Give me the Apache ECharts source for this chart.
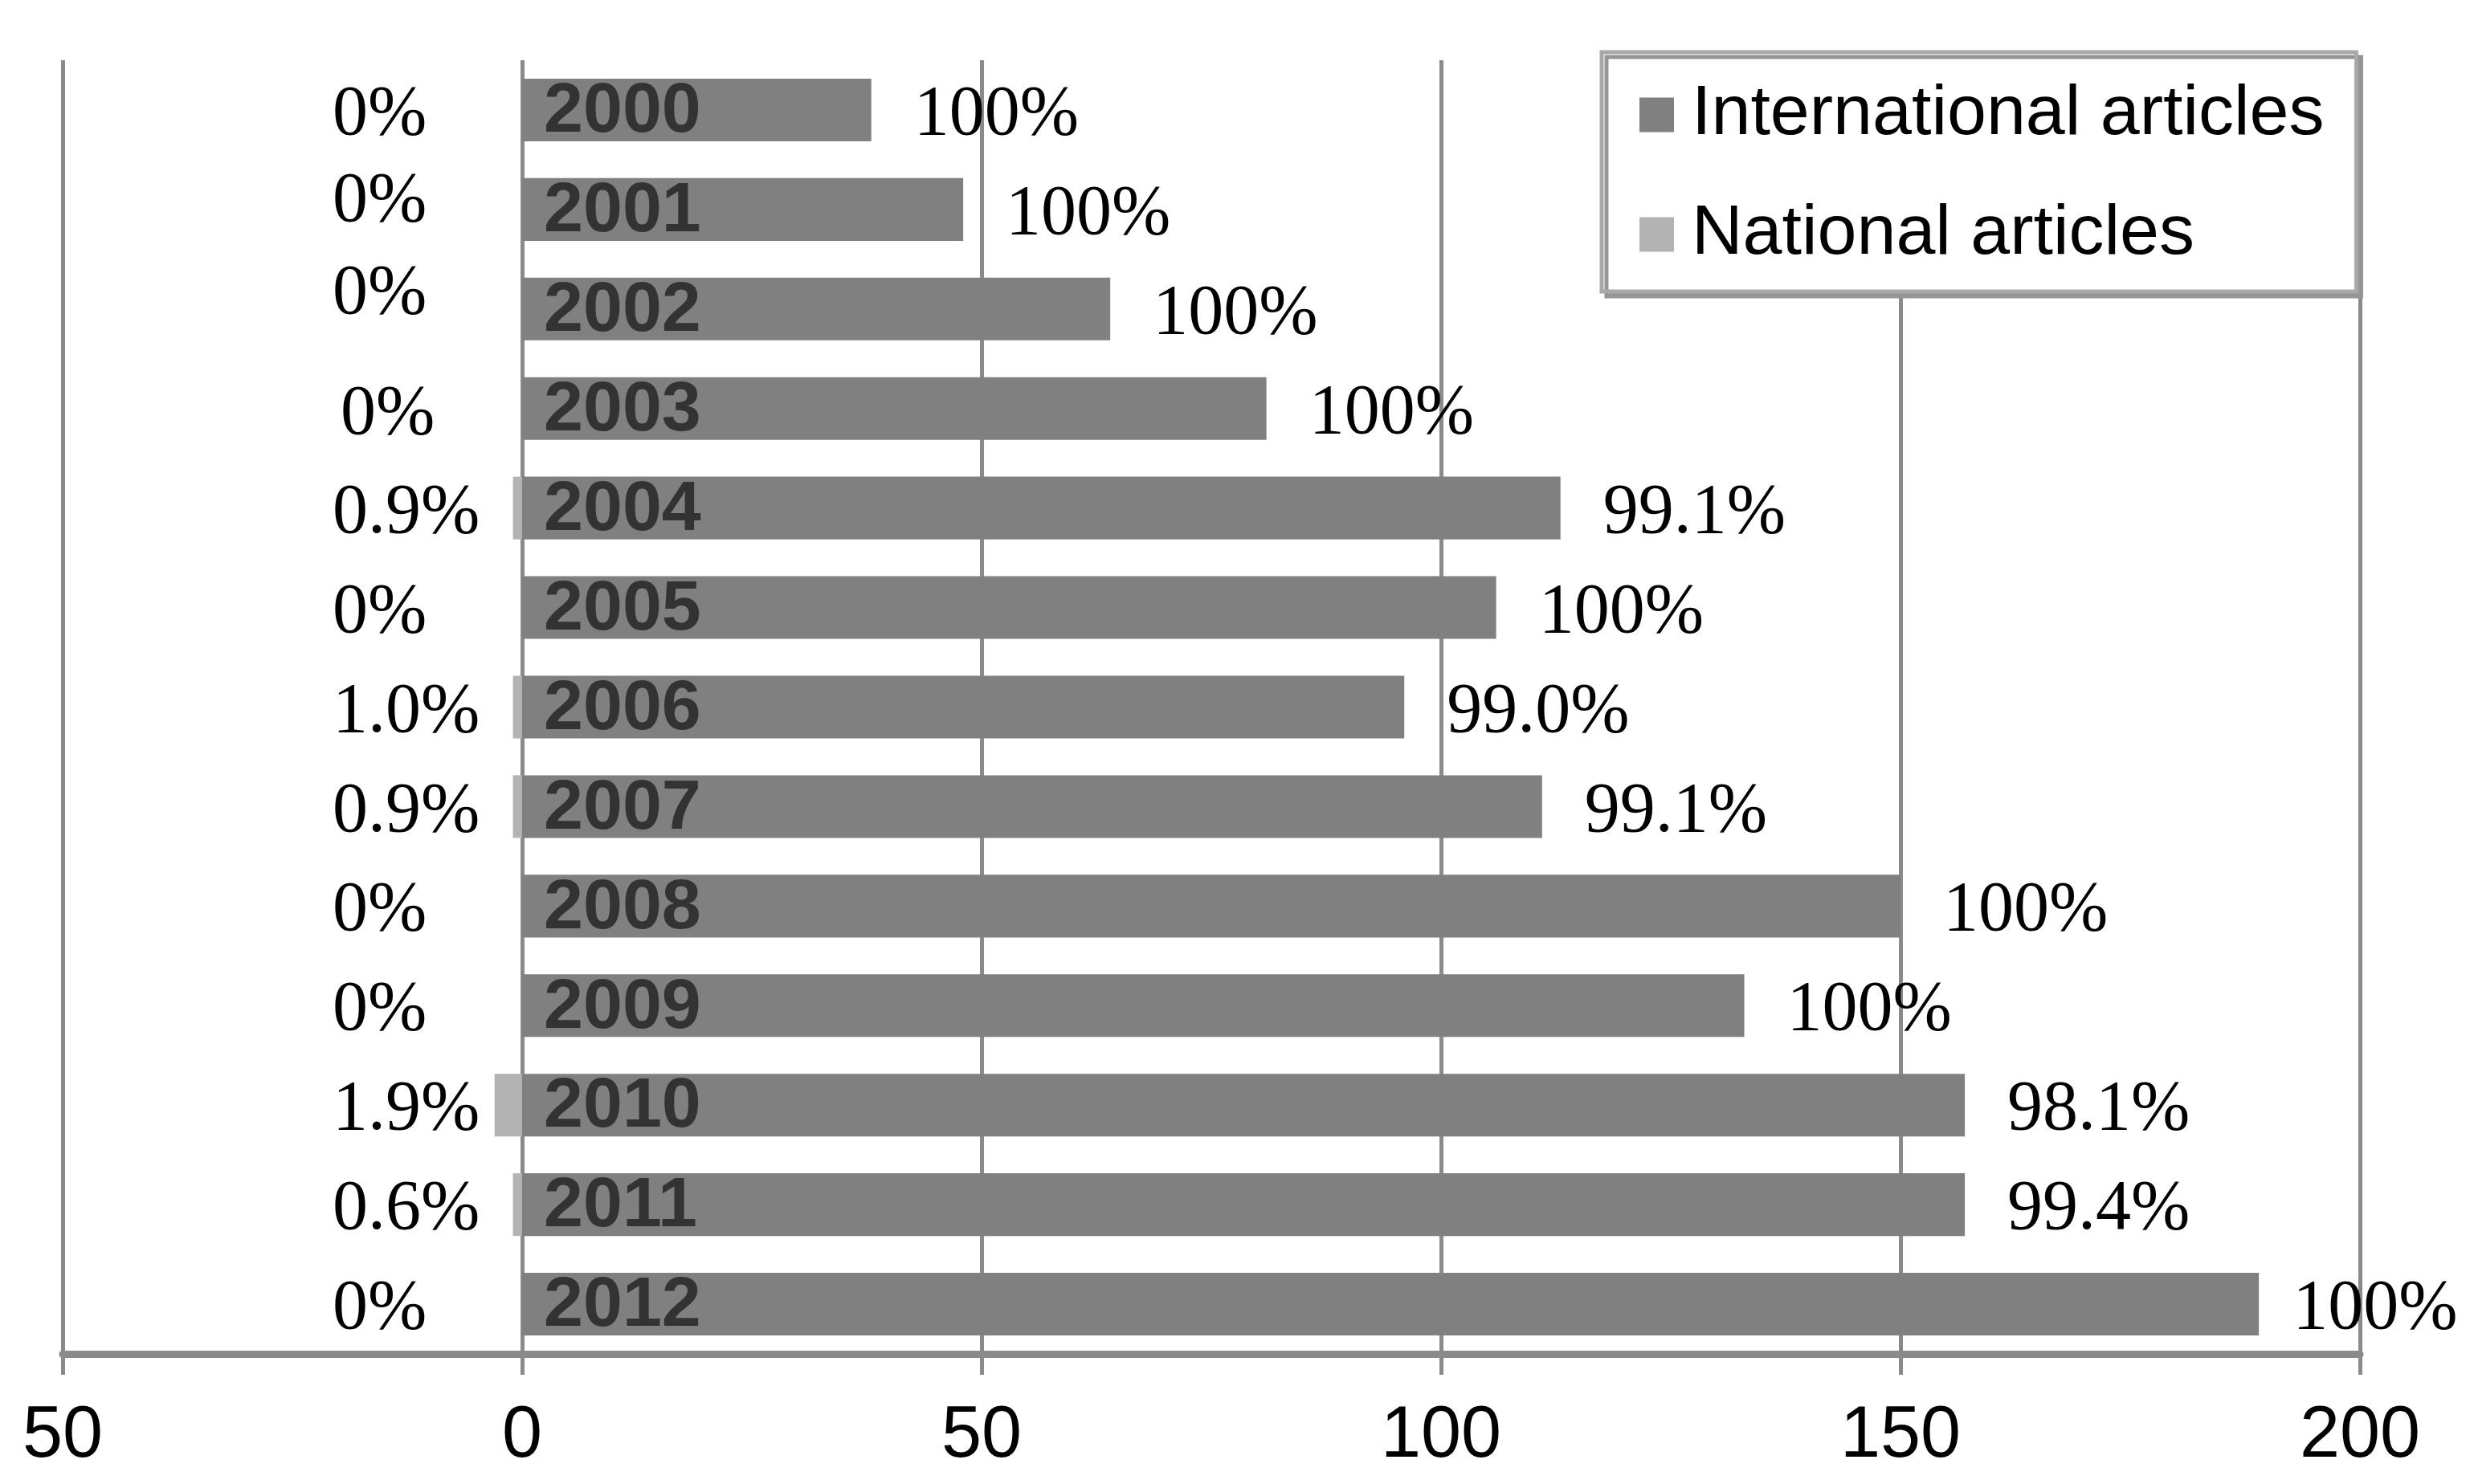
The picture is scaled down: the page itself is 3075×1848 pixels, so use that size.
<!DOCTYPE html>
<html>
<head>
<meta charset="utf-8">
<script src="https://cdn.jsdelivr.net/npm/echarts@6/dist/echarts.min.js"></script>
<style>
html,body{margin:0;padding:0;background:#fff;}
#chart{width:3075px;height:1848px;}
</style>
</head>
<body>
<div id="chart"></div>
<script>
// ---- data ----
var years = ['2000','2001','2002','2003','2004','2005','2006','2007','2008','2009','2010','2011','2012'];
var international = [38, 48, 64, 81, 113, 106, 96, 111, 150, 133, 157, 157, 189];
var national = [0, 0, 0, 0, 1, 0, 1, 1, 0, 0, 3, 1, 0];
var intlPct = ['100%','100%','100%','100%','99.1%','100%','99.0%','99.1%','100%','100%','98.1%','99.4%','100%'];
var natPct = ['0%','0%','0%','0%','0.9%','0%','1.0%','0.9%','0%','0%','1.9%','0.6%','0%'];
var xTicks = [-50, 0, 50, 100, 150, 200];

var chart = echarts.init(document.getElementById('chart'));
var SANS = '"Liberation Sans", Arial, sans-serif';
var SERIF = '"Liberation Serif", "Times New Roman", serif';
var GRID = '#8a8a8a';

// left percentage labels: a few are nudged off-centre in the reference
function leftLabel(v, i) {
  var t = natPct[i];
  if (i === 1) return '{p|' + t + '}\n{u18| }';
  if (i === 2) return '{p|' + t + '}\n{u36| }';
  if (i === 3) return '{d16| }\n{px|' + t + '}';
  return '{d14| }\n{p|' + t + '}';
}

var intlData = international.map(function (v, i) {
  // the last label sits a little closer to its bar in the reference
  return i === international.length - 1 ? { value: v, label: { distance: 42 } } : v;
});

chart.setOption({
  animation: false,
  backgroundColor: '#ffffff',
  grid: { left: 78, right: 137, top: 75, bottom: 162, containLabel: false },
  legend: {
    orient: 'vertical',
    left: 1994,
    top: 65,
    padding: [34, 40, 27, 47],
    itemGap: 61,
    itemWidth: 43,
    itemHeight: 43,
    icon: 'rect',
    backgroundColor: '#ffffff',
    borderColor: '#a8a8a8',
    borderWidth: 5,
    shadowColor: '#959595',
    shadowBlur: 0,
    shadowOffsetX: 6,
    shadowOffsetY: 6,
    textStyle: { fontFamily: SANS, fontSize: 88, color: '#000', padding: [0, 0, 0, 17] },
    data: ['International articles', 'National articles']
  },
  xAxis: {
    type: 'value',
    min: xTicks[0],
    max: xTicks[xTicks.length - 1],
    interval: 50,
    axisLine: { show: true, lineStyle: { color: GRID, width: 9 } },
    axisTick: { show: true, length: 26, lineStyle: { color: GRID, width: 5 } },
    axisLabel: {
      margin: 58,
      fontFamily: SANS, fontSize: 90, color: '#000',
      formatter: function (v) { return String(Math.abs(v)); }
    },
    splitLine: { show: true, lineStyle: { color: GRID, width: 5 } }
  },
  yAxis: {
    type: 'category',
    inverse: true,
    data: years,
    axisLine: { show: false },
    axisTick: { show: false },
    axisLabel: {
      inside: true,
      margin: 336,
      fontFamily: SERIF, fontSize: 88, color: '#000',
      formatter: leftLabel,
      rich: {
        p: { fontFamily: SERIF, fontSize: 88, lineHeight: 88, color: '#000' },
        px: { fontFamily: SERIF, fontSize: 88, lineHeight: 88, color: '#000', padding: [0, 0, 0, 10] },
        u18: { fontSize: 2, lineHeight: 18 },
        u36: { fontSize: 2, lineHeight: 36 },
        d14: { fontSize: 2, lineHeight: 14 },
        d16: { fontSize: 2, lineHeight: 16 }
      }
    }
  },
  series: [
    {
      name: 'International articles',
      type: 'bar',
      barGap: '-100%',
      barCategoryGap: '37%',
      itemStyle: { color: '#808080' },
      label: {
        show: true, position: 'right', distance: 53, offset: [0, 7],
        fontFamily: SERIF, fontSize: 88, color: '#000',
        formatter: function (p) { return intlPct[p.dataIndex]; }
      },
      data: intlData
    },
    {
      name: 'National articles',
      type: 'bar',
      barGap: '-100%',
      barCategoryGap: '37%',
      itemStyle: { color: '#b3b3b3' },
      label: {
        show: true, position: 'right', distance: 27, offset: [0, 3],
        fontFamily: SANS, fontSize: 88, fontWeight: 'bold', color: '#333333',
        formatter: function (p) { return p.name; }
      },
      data: national.map(function (v) { return -v; })
    }
  ]
});
</script>
</body>
</html>
